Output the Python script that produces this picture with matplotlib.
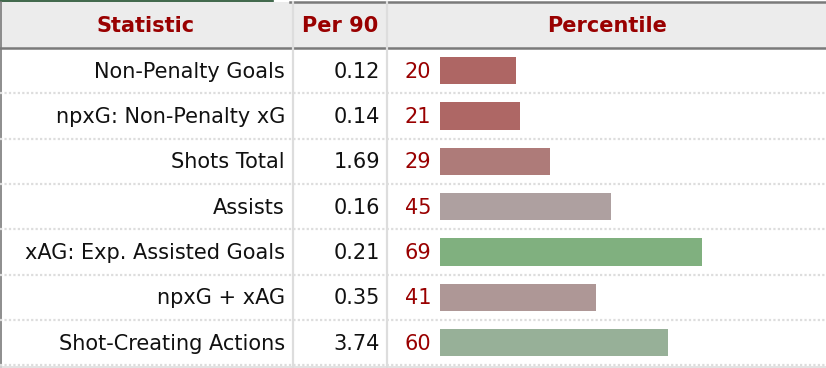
import numpy as np
import matplotlib.pyplot as plt
from matplotlib.patches import Rectangle

# table data
stats = ['Non-Penalty Goals', 'npxG: Non-Penalty xG', 'Shots Total', 'Assists',
         'xAG: Exp. Assisted Goals', 'npxG + xAG', 'Shot-Creating Actions']
per90 = ['0.12', '0.14', '1.69', '0.16', '0.21', '0.35', '3.74']
percentile = [20, 21, 29, 45, 69, 41, 60]
bar_colors = ['#ae6664', '#ae6765', '#ae7b79', '#aea0a0', '#80b07f', '#ae9796', '#97b098']
headers = ['Statistic', 'Per 90', 'Percentile']

W, H = 826, 368
head_top, head_bot = 2, 48
row_h = (365.4 - head_bot) / len(stats)
red = '#990000'
fs = 15

fig = plt.figure(figsize=(W / 100, H / 100), dpi=100)
bg = fig.add_axes([0, 0, 1, 1])
bg.set_xlim(0, W)
bg.set_ylim(H, 0)
bg.axis('off')

# header band and borders
bg.add_patch(Rectangle((0, head_top), W, head_bot - head_top, color='#ececec', lw=0))
bg.plot([0, 273], [0.5, 0.5], color='#1e4d2b', lw=1.2)
bg.plot([290, W], [1.5, 1.5], color='#7a7a7a', lw=1.8)
bg.plot([0, W], [head_bot - 0.5, head_bot - 0.5], color='#7a7a7a', lw=1.8)
bg.plot([0.5, 0.5], [head_top, H], color='#7a7a7a', lw=1.2)
for xc in [292.5, 387]:
    bg.plot([xc, xc], [head_top, H], color='#dddddd', lw=1.6)

for i in range(len(stats) + 1):
    yb = head_bot + (i + 1) * row_h
    bg.plot([0, W], [yb, yb], color='#dddddd', lw=1.6, ls=(0, (1, 1)))
bg.plot([0, W], [H - 0.8, H - 0.8], color='#dddddd', lw=1.2)

# header text
for txt, xc in zip(headers, [146, 340, 607]):
    bg.text(xc, (head_top + head_bot) / 2 + 1, txt, ha='center', va='center',
            fontsize=fs, fontweight='bold', color=red)

# row text
for i, (s, v, p) in enumerate(zip(stats, per90, percentile)):
    yc = head_bot + (i + 0.5) * row_h + 1
    bg.text(285, yc, s, ha='right', va='center', fontsize=fs, color='#111111')
    bg.text(380, yc, v, ha='right', va='center', fontsize=fs, color='#111111')
    bg.text(431.5, yc, str(p), ha='right', va='center', fontsize=fs, color=red)

# percentile bars
bx0, bx1 = 440, 820
ax = fig.add_axes([bx0 / W, (H - 365.4) / H, (bx1 - bx0) / W, (365.4 - head_bot) / H])
ax.barh(np.arange(len(stats)), percentile, height=0.6, color=bar_colors, left=0)
ax.set_xlim(0, 100)
ax.set_ylim(len(stats) - 0.5, -0.5)
ax.axis('off')

fig.savefig('out.png', dpi=100)
